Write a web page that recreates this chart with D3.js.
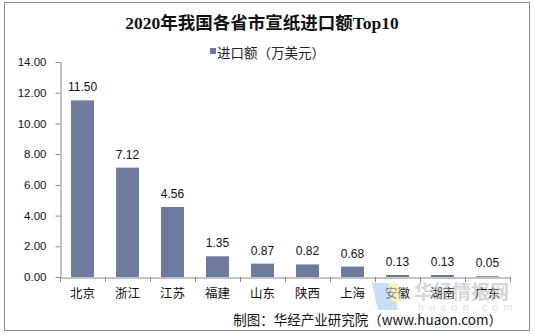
<!DOCTYPE html>
<html><head><meta charset="utf-8">
<script src="https://cdn.jsdelivr.net/npm/d3@7"></script>
<style>body{margin:0;background:#fff;}svg{display:block;}</style>
</head><body>
<svg id="c" width="535" height="335"></svg>
<script>
const categories = ["北京","浙江","江苏","福建","山东","陕西","上海","安徽","湖南","广东"];
const values = [11.50,7.12,4.56,1.35,0.87,0.82,0.68,0.13,0.13,0.05];
const yTicks = [0,2,4,6,8,10,12,14];
const title = "2020年我国各省市宣纸进口额Top10";
const legendLabel = "进口额（万美元）";
const source = "制图：华经产业研究院（www.huaon.com）";

const svg = d3.select("#c");
const W = 535, H = 335;
const m = {left:60, right:25, top:62, bottom:58};
const color = "#6F7A9F";
const sans = "'Liberation Sans', Arial, 'Noto Sans CJK SC', sans-serif";
const cjk = "'Noto Sans CJK SC', sans-serif";

svg.append("rect").attr("x",4.5).attr("y",2.5).attr("width",525).attr("height",328)
  .attr("fill","#fff").attr("stroke","#8c8c8c").attr("stroke-width",1);

svg.append("text").attr("x",262).attr("y",29).attr("text-anchor","middle")
  .attr("font-family","'Liberation Serif','Noto Sans CJK SC',serif").attr("font-weight","bold")
  .attr("font-size",17.5).attr("fill","#111").text(title);

svg.append("rect").attr("x",210).attr("y",48).attr("width",6).attr("height",6).attr("fill",color);
svg.append("text").attr("x",217).attr("y",58).attr("font-family",cjk).attr("font-size",13.5)
  .attr("fill","#222").text(legendLabel);

const x = d3.scaleBand().domain(categories).range([m.left, W-m.right]).paddingInner(0.49).paddingOuter(0.245);
const xb = d3.scaleBand().domain(categories).range([m.left, W-m.right]);
const y = d3.scaleLinear().domain([0,14]).range([277,62]);

// y axis
const ya = svg.append("g").attr("transform",`translate(${m.left}.5,0)`)
  .call(d3.axisLeft(y).tickValues(yTicks).tickFormat(d3.format(".2f")).tickSize(5).tickSizeOuter(0));
ya.select(".domain").attr("stroke","#888");
ya.selectAll(".tick line").attr("stroke","#888");
ya.selectAll("text").attr("font-family",sans).attr("font-size",11.5).attr("fill","#111").attr("x",-14);

// bars
svg.selectAll("rect.bar").data(values).join("rect").attr("class","bar")
  .attr("x",(d,i)=>x(categories[i])).attr("width",x.bandwidth())
  .attr("y",d=>y(d)).attr("height",d=>y(0)-y(d)).attr("fill",color);

// x axis
const xa = svg.append("g").attr("transform",`translate(0,${y(0)}.5)`)
  .call(d3.axisBottom(xb).tickSize(0).tickSizeOuter(0));
xa.select(".domain").attr("stroke","#888");
xa.selectAll("text").attr("font-family",cjk).attr("font-size",12.5).attr("fill","#111").attr("dy","0").attr("y",20);
svg.append("g").selectAll("line").data(categories.concat(["_end"])).join("line")
  .attr("x1",(d,i)=>Math.round(m.left + i*xb.step())+0.5).attr("x2",(d,i)=>Math.round(m.left + i*xb.step())+0.5)
  .attr("y1",y(0)).attr("y2",y(0)+5).attr("stroke","#888");

// value labels
svg.selectAll("text.val").data(values).join("text").attr("class","val")
  .attr("x",(d,i)=>x(categories[i])+x.bandwidth()/2).attr("y",d=>y(d)-9)
  .attr("text-anchor","middle").attr("font-family",sans).attr("font-size",12).attr("fill","#111")
  .text(d=>d3.format(".2f")(d));

// watermark
const wm = svg.append("g").attr("opacity",0.55);
wm.append("path").attr("d","M372,283 L392,283 L398,310 L378,310 Z").attr("fill","#9cc3f0");
wm.append("path").attr("d","M388,283 L398,283 L402,302 L392,302 Z").attr("fill","#f3e79a");
wm.append("text").attr("x",414).attr("y",299).attr("font-family",cjk).attr("font-weight","bold")
  .attr("font-size",19).attr("fill","#b5b5b5").text("华经情报网");
wm.append("text").attr("x",418).attr("y",311).attr("font-family",sans)
  .attr("font-size",11).attr("letter-spacing",5).attr("fill","#c8c8c8").text("huaon.com");

svg.append("text").attr("x",502).attr("y",325).attr("text-anchor","end").attr("font-family",cjk)
  .attr("font-size",13.5).attr("fill","#111").text(source);
</script>
</body></html>
